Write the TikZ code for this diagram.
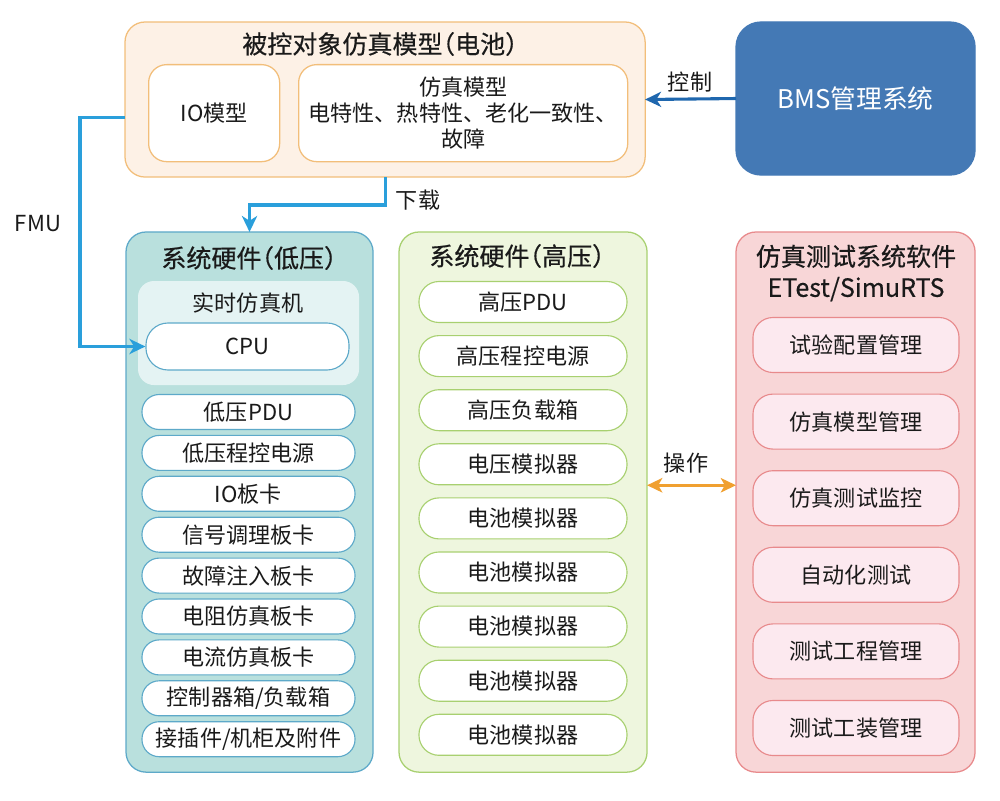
\documentclass[tikz,border=0pt]{standalone}
\usepackage{fontspec}
\setmainfont{Noto Sans CJK SC}
\newfontfamily\ttlfont[FakeBold=0.45, RawFeature=+halt]{Noto Sans CJK SC}
\usepackage{tikz}
\usetikzlibrary{positioning,arrows.meta}
\definecolor{txt}{HTML}{1A1A1A}
\definecolor{peach}{HTML}{FDF1E6}
\definecolor{peachd}{HTML}{F2BE7A}
\definecolor{bmsb}{HTML}{4479B5}
\definecolor{teal}{HTML}{B9E0DD}
\definecolor{teald}{HTML}{5DA9C9}
\definecolor{tealw}{HTML}{E4F3F3}
\definecolor{lgreen}{HTML}{EEF6DE}
\definecolor{lgreend}{HTML}{A8D070}
\definecolor{pink}{HTML}{F8D6D7}
\definecolor{pinkd}{HTML}{E88A8C}
\definecolor{pinkw}{HTML}{FCE9EF}
\definecolor{sky}{HTML}{2A9FDB}
\definecolor{navy}{HTML}{1F67AE}
\definecolor{orng}{HTML}{F0A030}
\tikzset{
  ttl/.style={font=\ttlfont\fontsize{17.8}{22}\selectfont, text=txt},
  lb/.style={font=\fontsize{15.7}{18.5}\selectfont, text=txt},
  grp/.style={rectangle, rounded corners=0.5cm, line width=0.9pt, outer sep=0pt, anchor=north west, minimum height=13.5cm},
  tp/.style={grp, draw=peachd, fill=peach, minimum width=13cm, minimum height=3.875cm},
  tpi/.style={lb, rectangle, rounded corners=0.45cm, draw=peachd, fill=white, line width=0.9pt, anchor=north west, minimum height=2.425cm, align=center},
  bms/.style={grp, draw=bmsb, fill=bmsb, rounded corners=0.625cm, minimum width=5.975cm, minimum height=3.825cm},
  lvg/.style={grp, draw=teald, fill=teal, minimum width=6.175cm},
  hvg/.style={grp, draw=lgreend, fill=lgreen, minimum width=6.2cm},
  swg/.style={grp, draw=pinkd, fill=pink, minimum width=5.975cm},
  rtg/.style={grp, fill=tealw, rounded corners=0.4cm, minimum width=5.525cm, minimum height=2.6cm},
  lvp/.style={lb, rectangle, rounded corners=0.43cm, draw=teald, fill=white, line width=0.8pt, minimum width=5.325cm, minimum height=0.875cm, inner sep=0pt},
  cpu/.style={lvp, rounded corners=0.55cm, minimum width=5.075cm, minimum height=1.175cm},
  hvp/.style={lb, rectangle, rounded corners=0.5cm, draw=lgreend, fill=white, line width=0.8pt, minimum width=5.2cm, minimum height=1.025cm, inner sep=0pt},
  swp/.style={lb, rectangle, rounded corners=0.5cm, draw=pinkd, fill=pinkw, line width=0.8pt, minimum width=5.15cm, minimum height=1.375cm, inner sep=0pt},
  dl/.style={draw=sky, line width=2.2pt, -{Stealth[length=0.4cm, width=0.38cm, inset=0.12cm]}},
  ctl/.style={dl, draw=navy},
  opr/.style={draw=orng, line width=2.2pt, {Stealth[length=0.38cm, width=0.36cm, inset=0.1cm]}-{Stealth[length=0.38cm, width=0.36cm, inset=0.1cm]}}
}

\begin{document}
\begin{tikzpicture}[x=0.025cm, y=-0.025cm]
	\useasboundingbox (0,0) rectangle (1000,801);

	% plant model
	\node[tp] (top) at (125,22) {};
	\node[ttl] (toptitle) at (380,44) {被控对象仿真模型（电池）};
	\node[tpi, minimum width=3.275cm] (iom) at (148,64) {IO模型};
	\node[tpi, minimum width=8.225cm] (simm) at (298,64) {仿真模型\\电特性、热特性、老化一致性、\\故障};

	\node[bms] (bms) at (736,22) {};
	\node[ttl, text=white, font=\fontsize{18.3}{22}\selectfont] (bmstxt) at (bms.center) {BMS管理系统};

	% low voltage hardware
	\node[lvg] (lv) at (126,232) {};
	\node[ttl] (lvtitle) at (249,258) {系统硬件（低压）};
	\node[rtg] (rt) at (138,281) {};
	\node[lb] (rttitle) at (248,303) {实时仿真机};
	\node[cpu] (cpu) at (247.5,346.5) {CPU};
	\foreach \t [count=\i] in {低压PDU, 低压程控电源, IO板卡, 信号调理板卡, 故障注入板卡, 电阻仿真板卡, 电流仿真板卡, 控制器箱/负载箱, 接插件/机柜及附件}
		\node[lvp] (lv\i) at (248.5,{412+40.9*(\i-1)}) {\t};

	% high voltage hardware
	\node[hvg] (hv) at (399,232) {};
	\node[ttl] (hvtitle) at (517,256) {系统硬件（高压）};
	\foreach \t [count=\i] in {高压PDU, 高压程控电源, 高压负载箱, 电压模拟器, 电池模拟器, 电池模拟器, 电池模拟器, 电池模拟器, 电池模拟器}
		\node[hvp] (hv\i) at (523,{302+54.1*(\i-1)}) {\t};

	% test software
	\node[swg] (sw) at (736,232) {};
	\node[ttl, align=center] (swtitle) at (856,273) {仿真测试系统软件\\ETest/SimuRTS};
	\foreach \t [count=\i] in {试验配置管理, 仿真模型管理, 仿真测试监控, 自动化测试, 测试工程管理, 测试工装管理}
		\node[swp] (sw\i) at (856,{345+76.6*(\i-1)}) {\t};

	% connectors
	\draw[ctl] (bms.west) -- (top.east);
	\node[lb] (ctltxt) at (690,82) {控制};
	\draw[dl] (top.south) -- ++(0,28) -| (lv.north);
	\node[lb] (dltxt) at (418,200) {下载};
	\draw[dl] ([yshift=-0.45cm]top.west) -- ++(-45,0) |- (cpu.west);
	\node[lb] (fmutxt) at (38,224) {FMU};
	\draw[opr] ([yshift=0.42cm]hv.east) -- ([yshift=0.42cm]sw.west);
	\node[lb] (oprtxt) at (686,463) {操作};
\end{tikzpicture}
\end{document}
